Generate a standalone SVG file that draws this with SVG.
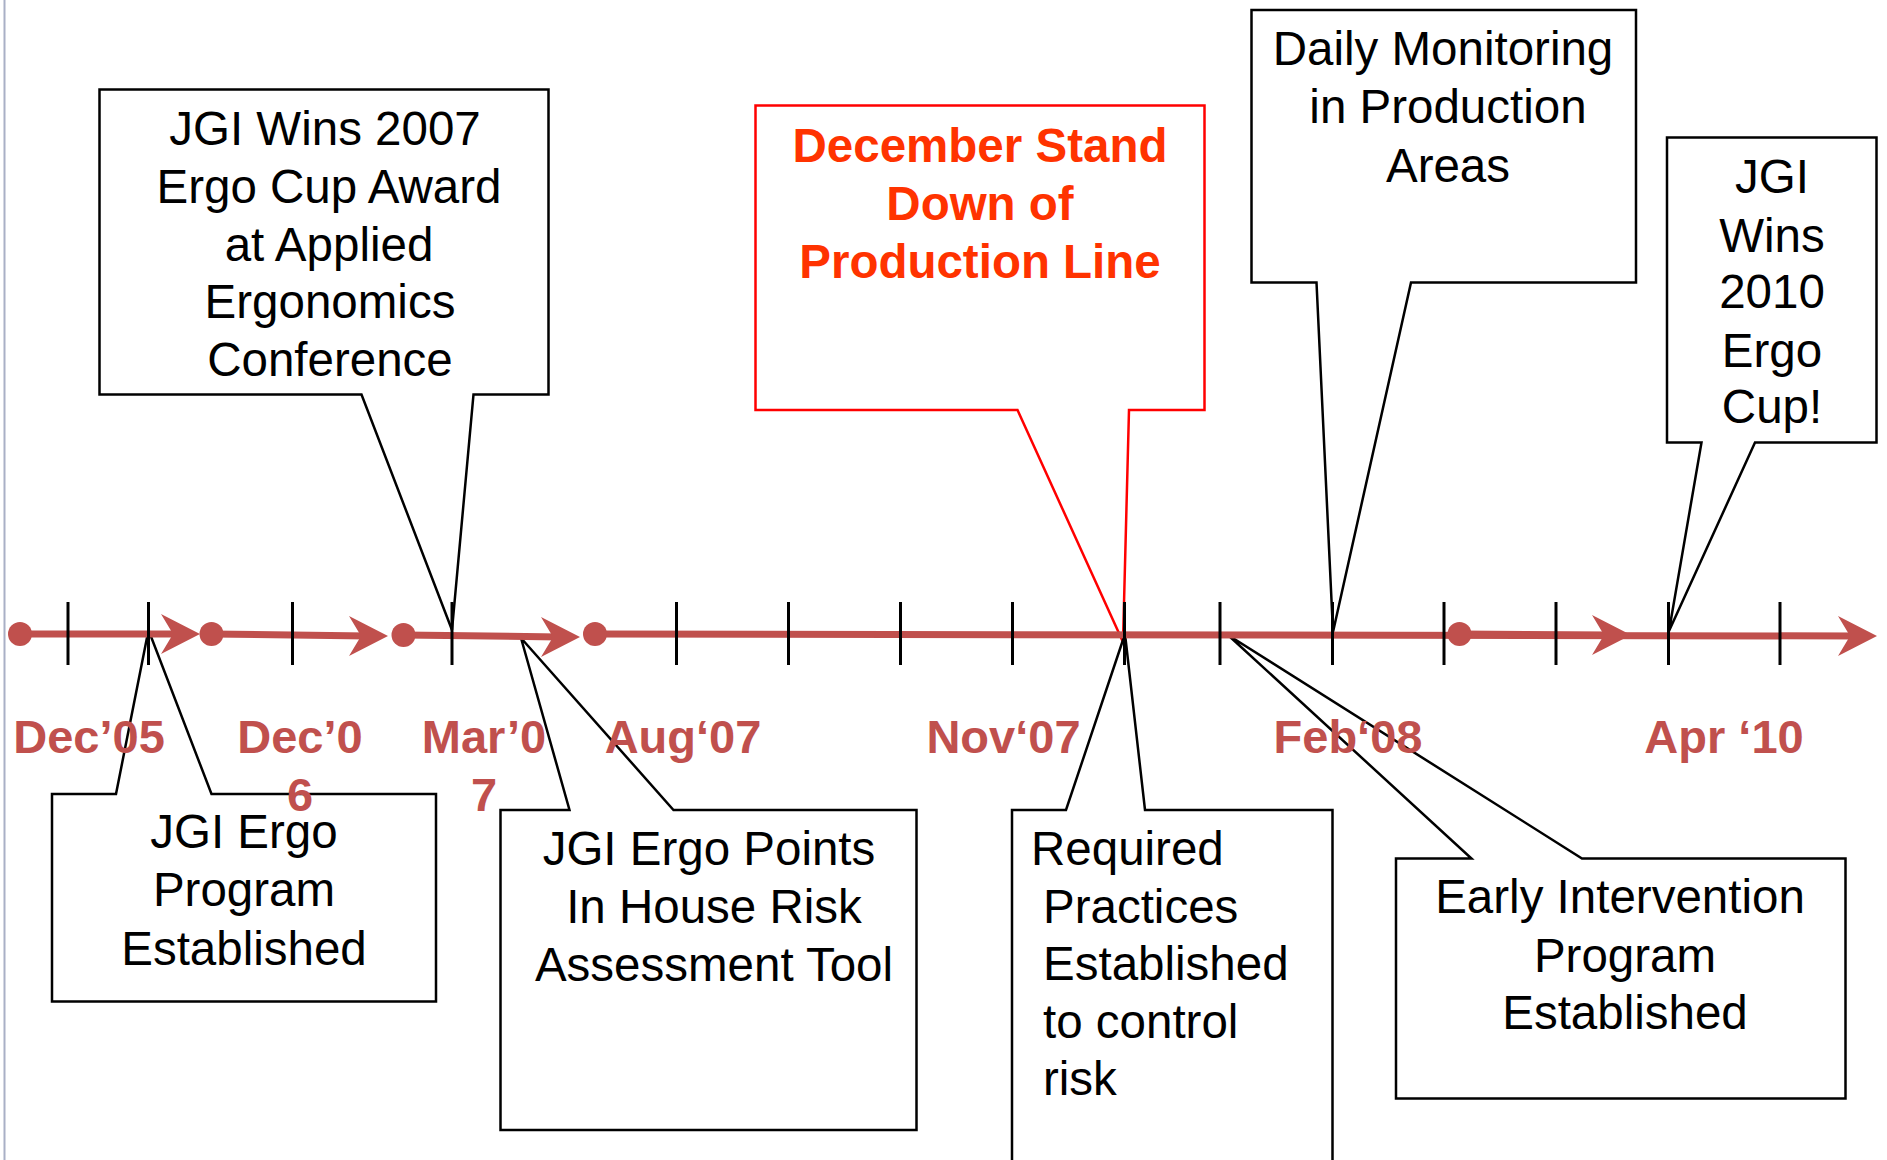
<svg xmlns="http://www.w3.org/2000/svg" width="1887" height="1160" viewBox="0 0 1887 1160">
<defs>
<style>
.co{fill:#fff;stroke:#000;stroke-width:2.5;stroke-linejoin:miter}
.cor{fill:#fff;stroke:#f00;stroke-width:2.5}
.t{font-family:"Liberation Sans",Arial,sans-serif;font-size:47.5px;fill:#000;text-anchor:middle}
.tl{font-family:"Liberation Sans",Arial,sans-serif;font-size:47.5px;fill:#000;text-anchor:start}
.tr{font-family:"Liberation Sans",Arial,sans-serif;font-size:47.5px;font-weight:bold;fill:#FF3300;text-anchor:middle}
.lab{font-family:"Liberation Sans",Arial,sans-serif;font-size:47px;font-weight:bold;fill:#C0504D;text-anchor:middle}
.ln{stroke:#C0504D;stroke-width:7;fill:none}
.dot{fill:#C0504D}
.ah{fill:#C0504D}
.tick{stroke:#000;stroke-width:3}
</style>
<path id="arrow" class="ah" d="M0,0 L-39,-20 L-27,0 L-39,20 Z"/>
</defs>
<rect width="1887" height="1160" fill="#fff"/>
<line x1="4.5" y1="0" x2="4.5" y2="1160" stroke="#A9B0C6" stroke-width="2"/>

<g id="callout-2007-award">
<polygon class="co" points="99.5,89.5 548.5,89.5 548.5,394.5 473.5,394.5 452,630 361.5,394.5 99.5,394.5"/>
<text class="t" x="325" y="145">JGI Wins 2007</text>
<text class="t" x="329" y="203">Ergo Cup Award</text>
<text class="t" x="329" y="261">at Applied</text>
<text class="t" x="330" y="318">Ergonomics</text>
<text class="t" x="330" y="376">Conference</text>
</g>

<g id="callout-program">
<polygon class="co" points="52,794 116,794 148.5,630 211.5,794 436,794 436,1001.5 52,1001.5"/>
<text class="t" x="244" y="848">JGI Ergo</text>
<text class="t" x="244" y="906">Program</text>
<text class="t" x="244" y="965">Established</text>
</g>

<g id="callout-points">
<polygon class="co" points="500.5,810 569.5,810 521,638 673.5,810 916.5,810 916.5,1130 500.5,1130"/>
<text class="t" x="709" y="865">JGI Ergo Points</text>
<text class="t" x="714" y="923">In House Risk</text>
<text class="t" x="714" y="981">Assessment Tool</text>
</g>

<g id="callout-standdown">
<polygon class="cor" points="755.5,105.5 1204.5,105.5 1204.5,410 1129,410 1123,642 1017.5,410 755.5,410"/>
<text class="tr" x="980" y="162">December Stand</text>
<text class="tr" x="980" y="220">Down of</text>
<text class="tr" x="980" y="278">Production Line</text>
</g>

<g id="callout-practices">
<polygon class="co" points="1012,810 1066,810 1125,634 1145,810 1332.5,810 1332.5,1180 1012,1180"/>
<text class="tl" x="1031" y="865">Required</text>
<text class="tl" x="1043" y="923">Practices</text>
<text class="tl" x="1043" y="980">Established</text>
<text class="tl" x="1043" y="1038">to control</text>
<text class="tl" x="1043" y="1095">risk</text>
</g>

<g id="callout-early">
<polygon class="co" points="1396,858.5 1471.5,858.5 1228,635 1582,858.5 1845.5,858.5 1845.5,1098.5 1396,1098.5"/>
<text class="t" x="1620" y="913">Early Intervention</text>
<text class="t" x="1625" y="972">Program</text>
<text class="t" x="1625" y="1029">Established</text>
</g>

<g id="callout-monitoring">
<polygon class="co" points="1251.5,10 1636,10 1636,282.5 1411,282.5 1333,632 1316.5,282.5 1251.5,282.5"/>
<text class="t" x="1443" y="65">Daily Monitoring</text>
<text class="t" x="1448" y="123">in Production</text>
<text class="t" x="1448" y="182">Areas</text>
</g>

<g id="callout-2010">
<polygon class="co" points="1667,137.5 1876.5,137.5 1876.5,442.5 1755,442.5 1669,631 1701.5,442.5 1667,442.5"/>
<text class="t" x="1772" y="193">JGI</text>
<text class="t" x="1772" y="252">Wins</text>
<text class="t" x="1772" y="308">2010</text>
<text class="t" x="1772" y="367">Ergo</text>
<text class="t" x="1772" y="423">Cup!</text>
</g>

<g id="connectors">
<line class="ln" x1="20" y1="634" x2="180" y2="634"/>
<use href="#arrow" x="200" y="634"/>
<circle class="dot" cx="20" cy="634" r="12"/>
<line class="ln" x1="211.5" y1="634" x2="368" y2="636"/>
<use href="#arrow" x="388" y="636"/>
<circle class="dot" cx="211.5" cy="634" r="12"/>
<line class="ln" x1="403.5" y1="635" x2="560" y2="637"/>
<use href="#arrow" x="580" y="637"/>
<circle class="dot" cx="403.5" cy="635" r="12"/>
<line class="ln" x1="595" y1="634" x2="1858" y2="636"/>
<use href="#arrow" x="1877" y="636"/>
<circle class="dot" cx="595" cy="634" r="12"/>
<line class="ln" x1="1459.5" y1="634" x2="1612" y2="635"/>
<use href="#arrow" x="1631" y="635"/>
<circle class="dot" cx="1459.5" cy="634" r="12"/>
<g class="tick">
<line x1="68" y1="602" x2="68" y2="665"/>
<line x1="148.5" y1="602" x2="148.5" y2="665"/>
<line x1="292.5" y1="602" x2="292.5" y2="665"/>
<line x1="452" y1="602" x2="452" y2="665"/>
<line x1="676.5" y1="602" x2="676.5" y2="665"/>
<line x1="788.5" y1="602" x2="788.5" y2="665"/>
<line x1="900.5" y1="602" x2="900.5" y2="665"/>
<line x1="1012.5" y1="602" x2="1012.5" y2="665"/>
<line x1="1124.5" y1="602" x2="1124.5" y2="665"/>
<line x1="1220" y1="602" x2="1220" y2="665"/>
<line x1="1332.5" y1="602" x2="1332.5" y2="665"/>
<line x1="1444" y1="602" x2="1444" y2="665"/>
<line x1="1556" y1="602" x2="1556" y2="665"/>
<line x1="1668.5" y1="602" x2="1668.5" y2="665"/>
<line x1="1780" y1="602" x2="1780" y2="665"/>
</g>
</g>

<g id="date-labels">
<text class="lab" x="89" y="753">Dec’05</text>
<text class="lab" x="300" y="753">Dec’0</text>
<text class="lab" x="300" y="811">6</text>
<text class="lab" x="484" y="753">Mar’0</text>
<text class="lab" x="484" y="811">7</text>
<text class="lab" x="683" y="753">Aug‘07</text>
<text class="lab" x="1003.5" y="753">Nov‘07</text>
<text class="lab" x="1348" y="753">Feb‘08</text>
<text class="lab" x="1724" y="753">Apr ‘10</text>
</g>
</svg>
